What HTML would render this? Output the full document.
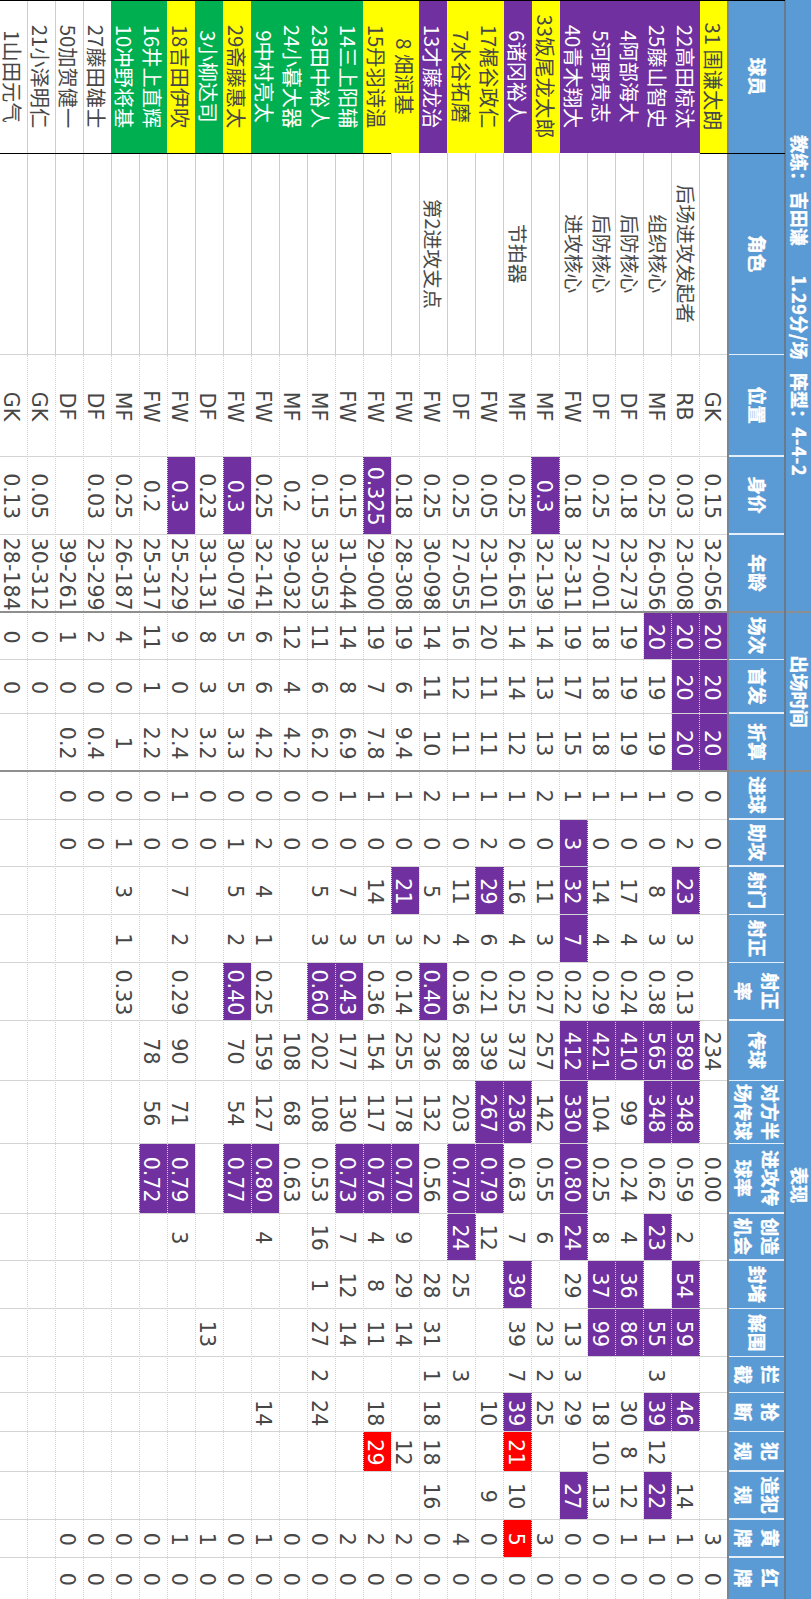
<!DOCTYPE html>
<html lang="zh"><head><meta charset="utf-8"><title>球员数据</title>
<style>
html,body{margin:0;padding:0;background:#fff;}
body{width:811px;height:1599px;overflow:hidden;position:relative;}
#t{position:absolute;left:0;top:0;width:1599px;height:811px;transform-origin:0 0;transform:translate(811px,0) rotate(90deg);background:#fff;
 font-family:"DejaVu Sans","Noto Sans CJK SC",sans-serif;font-size:20.6px;color:#474747;}
#t div{position:absolute;box-sizing:border-box;white-space:nowrap;}
.c{text-align:center;line-height:28px;height:28.1px;}
.d{line-height:33px;padding-left:2.4px;}
.n{font-family:"Noto Sans CJK SC","Liberation Sans",sans-serif;font-size:20.3px;}
.ro{font-size:19.8px;color:#4a4a4a;}
.p{background:#7030a0;color:#fff;}
.y{background:#ffff00;}
.g{background:#00b050;color:#fff;}
.r{background:#ff0000;color:#fff;}
.h{background:#5b9bd5;color:#fff;font-weight:bold;font-family:"Noto Sans CJK SC","Liberation Sans",sans-serif;font-size:18px;text-align:center;-webkit-text-stroke:0.35px #fff;}
.h1{background:none;}
.h2{font-size:18.7px;}
.v{width:1px;background:#d4d4d4;}
.hd{height:0;border-top:1px dotted #d2d2d2;}
.hs{height:1px;background:#cbced8;}

</style></head><body><div id="t">

<div class="h" style="left:0;top:0;width:1599px;height:83.3px"></div>
<div class="h h1" style="left:135.3px;top:0;height:25.5px;line-height:23.9px">教练：</div>
<div class="h h1" style="left:191.8px;top:0;height:25.5px;line-height:23.9px">吉田谦</div>
<div class="h h1" style="left:275.3px;top:0;height:25.5px;line-height:23.9px;letter-spacing:0.6px">1.29分/场</div>
<div class="h h1" style="left:373.05px;top:0;height:25.5px;line-height:23.9px">阵型：</div>
<div class="h h1" style="right:1122.5px;top:0;height:25.5px;line-height:23.9px;letter-spacing:0.8px">4-4-2</div>
<div class="h h1" style="left:612px;top:0;width:159px;height:25.5px;line-height:23.9px;">出场时间</div>
<div class="h h1" style="left:771px;top:0;width:828px;height:25.5px;line-height:23.9px">表现</div>
<div class="h h2" style="left:0px;top:25.5px;width:153px;height:57.8px;line-height:26.75px;padding-top:14.02px">球员</div>
<div class="h h2" style="left:153px;top:25.5px;width:201.5px;height:57.8px;line-height:26.75px;padding-top:14.02px">角色</div>
<div class="h h2" style="left:354.5px;top:25.5px;width:101.5px;height:57.8px;line-height:26.75px;padding-top:14.02px">位置</div>
<div class="h h2" style="left:456px;top:25.5px;width:78px;height:57.8px;line-height:26.75px;padding-top:14.02px">身价</div>
<div class="h h2" style="left:534px;top:25.5px;width:78px;height:57.8px;line-height:26.75px;padding-top:14.02px">年龄</div>
<div class="h h2" style="left:612px;top:25.5px;width:47.6px;height:57.8px;line-height:26.75px;padding-top:14.02px">场次</div>
<div class="h h2" style="left:659.6px;top:25.5px;width:53.4px;height:57.8px;line-height:26.75px;padding-top:14.02px">首发</div>
<div class="h h2" style="left:713px;top:25.5px;width:58px;height:57.8px;line-height:26.75px;padding-top:14.02px">折算</div>
<div class="h h2" style="left:771px;top:25.5px;width:48px;height:57.8px;line-height:26.75px;padding-top:14.02px">进球</div>
<div class="h h2" style="left:819px;top:25.5px;width:47px;height:57.8px;line-height:26.75px;padding-top:14.02px">助攻</div>
<div class="h h2" style="left:866px;top:25.5px;width:48.5px;height:57.8px;line-height:26.75px;padding-top:14.02px">射门</div>
<div class="h h2" style="left:914.5px;top:25.5px;width:48px;height:57.8px;line-height:26.75px;padding-top:14.02px">射正</div>
<div class="h h2" style="left:962.5px;top:25.5px;width:57.5px;height:57.8px;line-height:26.75px;padding-top:1.25px">射正<br>率</div>
<div class="h h2" style="left:1020px;top:25.5px;width:60.5px;height:57.8px;line-height:26.75px;padding-top:14.02px">传球</div>
<div class="h h2" style="left:1080.5px;top:25.5px;width:63.25px;height:57.8px;line-height:26.75px;padding-top:1.25px">对方半<br>场传球</div>
<div class="h h2" style="left:1143.75px;top:25.5px;width:69.25px;height:57.8px;line-height:26.75px;padding-top:1.25px">进攻传<br>球率</div>
<div class="h h2" style="left:1213px;top:25.5px;width:47px;height:57.8px;line-height:26.75px;padding-top:1.25px">创造<br>机会</div>
<div class="h h2" style="left:1260px;top:25.5px;width:48.75px;height:57.8px;line-height:26.75px;padding-top:14.02px">封堵</div>
<div class="h h2" style="left:1308.75px;top:25.5px;width:48px;height:57.8px;line-height:26.75px;padding-top:14.02px">解围</div>
<div class="h h2" style="left:1356.75px;top:25.5px;width:35.75px;height:57.8px;line-height:26.75px;padding-top:1.25px">拦<br>截</div>
<div class="h h2" style="left:1392.5px;top:25.5px;width:39px;height:57.8px;line-height:26.75px;padding-top:1.25px">抢<br>断</div>
<div class="h h2" style="left:1431.5px;top:25.5px;width:39.5px;height:57.8px;line-height:26.75px;padding-top:1.25px">犯<br>规</div>
<div class="h h2" style="left:1471px;top:25.5px;width:48px;height:57.8px;line-height:26.75px;padding-top:1.25px">造犯<br>规</div>
<div class="h h2" style="left:1519px;top:25.5px;width:38px;height:57.8px;line-height:26.75px;padding-top:1.25px">黄<br>牌</div>
<div class="h h2" style="left:1557px;top:25.5px;width:42px;height:57.8px;line-height:26.75px;padding-top:1.25px">红<br>牌</div>
<div class="c d" style="left:354.5px;top:83.3px;width:101.5px">GK</div>
<div class="c d" style="left:456px;top:83.3px;width:78px">0.15</div>
<div class="c d" style="left:534px;top:83.3px;width:78px">32-056</div>
<div class="c d p" style="left:612px;top:83.3px;width:47.6px">20</div>
<div class="c d p" style="left:659.6px;top:83.3px;width:53.4px">20</div>
<div class="c d p" style="left:713px;top:83.3px;width:58px">20</div>
<div class="c d" style="left:771px;top:83.3px;width:48px">0</div>
<div class="c d" style="left:819px;top:83.3px;width:47px">0</div>
<div class="c d" style="left:1020px;top:83.3px;width:60.5px">234</div>
<div class="c d" style="left:1143.75px;top:83.3px;width:69.25px">0.00</div>
<div class="c d" style="left:1519px;top:83.3px;width:38px">3</div>
<div class="c d" style="left:1557px;top:83.3px;width:42px">0</div>
<div class="c n ro" style="left:153px;top:111.32px;width:201.5px">后场进攻发起者</div>
<div class="c d" style="left:354.5px;top:111.32px;width:101.5px">RB</div>
<div class="c d" style="left:456px;top:111.32px;width:78px">0.03</div>
<div class="c d" style="left:534px;top:111.32px;width:78px">23-008</div>
<div class="c d p" style="left:612px;top:111.32px;width:47.6px">20</div>
<div class="c d p" style="left:659.6px;top:111.32px;width:53.4px">20</div>
<div class="c d p" style="left:713px;top:111.32px;width:58px">20</div>
<div class="c d" style="left:771px;top:111.32px;width:48px">0</div>
<div class="c d" style="left:819px;top:111.32px;width:47px">2</div>
<div class="c d p" style="left:866px;top:111.32px;width:48.5px">23</div>
<div class="c d" style="left:914.5px;top:111.32px;width:48px">3</div>
<div class="c d" style="left:962.5px;top:111.32px;width:57.5px">0.13</div>
<div class="c d p" style="left:1020px;top:111.32px;width:60.5px">589</div>
<div class="c d p" style="left:1080.5px;top:111.32px;width:63.25px">348</div>
<div class="c d" style="left:1143.75px;top:111.32px;width:69.25px">0.59</div>
<div class="c d" style="left:1213px;top:111.32px;width:47px">2</div>
<div class="c d p" style="left:1260px;top:111.32px;width:48.75px">54</div>
<div class="c d p" style="left:1308.75px;top:111.32px;width:48px">59</div>
<div class="c d p" style="left:1392.5px;top:111.32px;width:39px">46</div>
<div class="c d" style="left:1471px;top:111.32px;width:48px">14</div>
<div class="c d" style="left:1519px;top:111.32px;width:38px">1</div>
<div class="c d" style="left:1557px;top:111.32px;width:42px">0</div>
<div class="c n ro" style="left:153px;top:139.34px;width:201.5px">组织核心</div>
<div class="c d" style="left:354.5px;top:139.34px;width:101.5px">MF</div>
<div class="c d" style="left:456px;top:139.34px;width:78px">0.25</div>
<div class="c d" style="left:534px;top:139.34px;width:78px">26-056</div>
<div class="c d p" style="left:612px;top:139.34px;width:47.6px">20</div>
<div class="c d" style="left:659.6px;top:139.34px;width:53.4px">19</div>
<div class="c d" style="left:713px;top:139.34px;width:58px">19</div>
<div class="c d" style="left:771px;top:139.34px;width:48px">1</div>
<div class="c d" style="left:819px;top:139.34px;width:47px">0</div>
<div class="c d" style="left:866px;top:139.34px;width:48.5px">8</div>
<div class="c d" style="left:914.5px;top:139.34px;width:48px">3</div>
<div class="c d" style="left:962.5px;top:139.34px;width:57.5px">0.38</div>
<div class="c d p" style="left:1020px;top:139.34px;width:60.5px">565</div>
<div class="c d p" style="left:1080.5px;top:139.34px;width:63.25px">348</div>
<div class="c d" style="left:1143.75px;top:139.34px;width:69.25px">0.62</div>
<div class="c d p" style="left:1213px;top:139.34px;width:47px">23</div>
<div class="c d p" style="left:1308.75px;top:139.34px;width:48px">55</div>
<div class="c d" style="left:1356.75px;top:139.34px;width:35.75px">3</div>
<div class="c d p" style="left:1392.5px;top:139.34px;width:39px">39</div>
<div class="c d" style="left:1431.5px;top:139.34px;width:39.5px">12</div>
<div class="c d p" style="left:1471px;top:139.34px;width:48px">22</div>
<div class="c d" style="left:1519px;top:139.34px;width:38px">1</div>
<div class="c d" style="left:1557px;top:139.34px;width:42px">0</div>
<div class="c n ro" style="left:153px;top:167.36px;width:201.5px">后防核心</div>
<div class="c d" style="left:354.5px;top:167.36px;width:101.5px">DF</div>
<div class="c d" style="left:456px;top:167.36px;width:78px">0.18</div>
<div class="c d" style="left:534px;top:167.36px;width:78px">23-273</div>
<div class="c d" style="left:612px;top:167.36px;width:47.6px">19</div>
<div class="c d" style="left:659.6px;top:167.36px;width:53.4px">19</div>
<div class="c d" style="left:713px;top:167.36px;width:58px">19</div>
<div class="c d" style="left:771px;top:167.36px;width:48px">1</div>
<div class="c d" style="left:819px;top:167.36px;width:47px">0</div>
<div class="c d" style="left:866px;top:167.36px;width:48.5px">17</div>
<div class="c d" style="left:914.5px;top:167.36px;width:48px">4</div>
<div class="c d" style="left:962.5px;top:167.36px;width:57.5px">0.24</div>
<div class="c d p" style="left:1020px;top:167.36px;width:60.5px">410</div>
<div class="c d" style="left:1080.5px;top:167.36px;width:63.25px">99</div>
<div class="c d" style="left:1143.75px;top:167.36px;width:69.25px">0.24</div>
<div class="c d" style="left:1213px;top:167.36px;width:47px">4</div>
<div class="c d p" style="left:1260px;top:167.36px;width:48.75px">36</div>
<div class="c d p" style="left:1308.75px;top:167.36px;width:48px">86</div>
<div class="c d" style="left:1392.5px;top:167.36px;width:39px">30</div>
<div class="c d" style="left:1431.5px;top:167.36px;width:39.5px">8</div>
<div class="c d" style="left:1471px;top:167.36px;width:48px">12</div>
<div class="c d" style="left:1519px;top:167.36px;width:38px">1</div>
<div class="c d" style="left:1557px;top:167.36px;width:42px">0</div>
<div class="c n ro" style="left:153px;top:195.38px;width:201.5px">后防核心</div>
<div class="c d" style="left:354.5px;top:195.38px;width:101.5px">DF</div>
<div class="c d" style="left:456px;top:195.38px;width:78px">0.25</div>
<div class="c d" style="left:534px;top:195.38px;width:78px">27-001</div>
<div class="c d" style="left:612px;top:195.38px;width:47.6px">18</div>
<div class="c d" style="left:659.6px;top:195.38px;width:53.4px">18</div>
<div class="c d" style="left:713px;top:195.38px;width:58px">18</div>
<div class="c d" style="left:771px;top:195.38px;width:48px">1</div>
<div class="c d" style="left:819px;top:195.38px;width:47px">0</div>
<div class="c d" style="left:866px;top:195.38px;width:48.5px">14</div>
<div class="c d" style="left:914.5px;top:195.38px;width:48px">4</div>
<div class="c d" style="left:962.5px;top:195.38px;width:57.5px">0.29</div>
<div class="c d p" style="left:1020px;top:195.38px;width:60.5px">421</div>
<div class="c d" style="left:1080.5px;top:195.38px;width:63.25px">104</div>
<div class="c d" style="left:1143.75px;top:195.38px;width:69.25px">0.25</div>
<div class="c d" style="left:1213px;top:195.38px;width:47px">8</div>
<div class="c d p" style="left:1260px;top:195.38px;width:48.75px">37</div>
<div class="c d p" style="left:1308.75px;top:195.38px;width:48px">99</div>
<div class="c d" style="left:1392.5px;top:195.38px;width:39px">18</div>
<div class="c d" style="left:1431.5px;top:195.38px;width:39.5px">10</div>
<div class="c d" style="left:1471px;top:195.38px;width:48px">13</div>
<div class="c d" style="left:1519px;top:195.38px;width:38px">0</div>
<div class="c d" style="left:1557px;top:195.38px;width:42px">0</div>
<div class="c n ro" style="left:153px;top:223.4px;width:201.5px">进攻核心</div>
<div class="c d" style="left:354.5px;top:223.4px;width:101.5px">FW</div>
<div class="c d" style="left:456px;top:223.4px;width:78px">0.18</div>
<div class="c d" style="left:534px;top:223.4px;width:78px">32-311</div>
<div class="c d" style="left:612px;top:223.4px;width:47.6px">19</div>
<div class="c d" style="left:659.6px;top:223.4px;width:53.4px">17</div>
<div class="c d" style="left:713px;top:223.4px;width:58px">15</div>
<div class="c d" style="left:771px;top:223.4px;width:48px">1</div>
<div class="c d p" style="left:819px;top:223.4px;width:47px">3</div>
<div class="c d p" style="left:866px;top:223.4px;width:48.5px">32</div>
<div class="c d p" style="left:914.5px;top:223.4px;width:48px">7</div>
<div class="c d" style="left:962.5px;top:223.4px;width:57.5px">0.22</div>
<div class="c d p" style="left:1020px;top:223.4px;width:60.5px">412</div>
<div class="c d p" style="left:1080.5px;top:223.4px;width:63.25px">330</div>
<div class="c d p" style="left:1143.75px;top:223.4px;width:69.25px">0.80</div>
<div class="c d p" style="left:1213px;top:223.4px;width:47px">24</div>
<div class="c d" style="left:1260px;top:223.4px;width:48.75px">29</div>
<div class="c d" style="left:1308.75px;top:223.4px;width:48px">13</div>
<div class="c d" style="left:1356.75px;top:223.4px;width:35.75px">3</div>
<div class="c d" style="left:1392.5px;top:223.4px;width:39px">29</div>
<div class="c d p" style="left:1471px;top:223.4px;width:48px">27</div>
<div class="c d" style="left:1519px;top:223.4px;width:38px">0</div>
<div class="c d" style="left:1557px;top:223.4px;width:42px">0</div>
<div class="c d" style="left:354.5px;top:251.42px;width:101.5px">MF</div>
<div class="c d p" style="left:456px;top:251.42px;width:78px">0.3</div>
<div class="c d" style="left:534px;top:251.42px;width:78px">32-139</div>
<div class="c d" style="left:612px;top:251.42px;width:47.6px">14</div>
<div class="c d" style="left:659.6px;top:251.42px;width:53.4px">13</div>
<div class="c d" style="left:713px;top:251.42px;width:58px">13</div>
<div class="c d" style="left:771px;top:251.42px;width:48px">2</div>
<div class="c d" style="left:819px;top:251.42px;width:47px">0</div>
<div class="c d" style="left:866px;top:251.42px;width:48.5px">11</div>
<div class="c d" style="left:914.5px;top:251.42px;width:48px">3</div>
<div class="c d" style="left:962.5px;top:251.42px;width:57.5px">0.27</div>
<div class="c d" style="left:1020px;top:251.42px;width:60.5px">257</div>
<div class="c d" style="left:1080.5px;top:251.42px;width:63.25px">142</div>
<div class="c d" style="left:1143.75px;top:251.42px;width:69.25px">0.55</div>
<div class="c d" style="left:1213px;top:251.42px;width:47px">6</div>
<div class="c d" style="left:1308.75px;top:251.42px;width:48px">23</div>
<div class="c d" style="left:1356.75px;top:251.42px;width:35.75px">2</div>
<div class="c d" style="left:1392.5px;top:251.42px;width:39px">25</div>
<div class="c d" style="left:1519px;top:251.42px;width:38px">3</div>
<div class="c d" style="left:1557px;top:251.42px;width:42px">0</div>
<div class="c n ro" style="left:153px;top:279.44px;width:201.5px">节拍器</div>
<div class="c d" style="left:354.5px;top:279.44px;width:101.5px">MF</div>
<div class="c d" style="left:456px;top:279.44px;width:78px">0.25</div>
<div class="c d" style="left:534px;top:279.44px;width:78px">26-165</div>
<div class="c d" style="left:612px;top:279.44px;width:47.6px">14</div>
<div class="c d" style="left:659.6px;top:279.44px;width:53.4px">14</div>
<div class="c d" style="left:713px;top:279.44px;width:58px">12</div>
<div class="c d" style="left:771px;top:279.44px;width:48px">1</div>
<div class="c d" style="left:819px;top:279.44px;width:47px">0</div>
<div class="c d" style="left:866px;top:279.44px;width:48.5px">16</div>
<div class="c d" style="left:914.5px;top:279.44px;width:48px">4</div>
<div class="c d" style="left:962.5px;top:279.44px;width:57.5px">0.25</div>
<div class="c d" style="left:1020px;top:279.44px;width:60.5px">373</div>
<div class="c d p" style="left:1080.5px;top:279.44px;width:63.25px">236</div>
<div class="c d" style="left:1143.75px;top:279.44px;width:69.25px">0.63</div>
<div class="c d" style="left:1213px;top:279.44px;width:47px">7</div>
<div class="c d p" style="left:1260px;top:279.44px;width:48.75px">39</div>
<div class="c d" style="left:1308.75px;top:279.44px;width:48px">39</div>
<div class="c d" style="left:1356.75px;top:279.44px;width:35.75px">7</div>
<div class="c d p" style="left:1392.5px;top:279.44px;width:39px">39</div>
<div class="c d r" style="left:1431.5px;top:279.44px;width:39.5px">21</div>
<div class="c d" style="left:1471px;top:279.44px;width:48px">10</div>
<div class="c d r" style="left:1519px;top:279.44px;width:38px">5</div>
<div class="c d" style="left:1557px;top:279.44px;width:42px">0</div>
<div class="c d" style="left:354.5px;top:307.46px;width:101.5px">FW</div>
<div class="c d" style="left:456px;top:307.46px;width:78px">0.05</div>
<div class="c d" style="left:534px;top:307.46px;width:78px">23-101</div>
<div class="c d" style="left:612px;top:307.46px;width:47.6px">20</div>
<div class="c d" style="left:659.6px;top:307.46px;width:53.4px">11</div>
<div class="c d" style="left:713px;top:307.46px;width:58px">11</div>
<div class="c d" style="left:771px;top:307.46px;width:48px">1</div>
<div class="c d" style="left:819px;top:307.46px;width:47px">2</div>
<div class="c d p" style="left:866px;top:307.46px;width:48.5px">29</div>
<div class="c d" style="left:914.5px;top:307.46px;width:48px">6</div>
<div class="c d" style="left:962.5px;top:307.46px;width:57.5px">0.21</div>
<div class="c d" style="left:1020px;top:307.46px;width:60.5px">339</div>
<div class="c d p" style="left:1080.5px;top:307.46px;width:63.25px">267</div>
<div class="c d p" style="left:1143.75px;top:307.46px;width:69.25px">0.79</div>
<div class="c d" style="left:1213px;top:307.46px;width:47px">12</div>
<div class="c d" style="left:1392.5px;top:307.46px;width:39px">10</div>
<div class="c d" style="left:1471px;top:307.46px;width:48px">9</div>
<div class="c d" style="left:1519px;top:307.46px;width:38px">0</div>
<div class="c d" style="left:1557px;top:307.46px;width:42px">0</div>
<div class="c d" style="left:354.5px;top:335.48px;width:101.5px">DF</div>
<div class="c d" style="left:456px;top:335.48px;width:78px">0.25</div>
<div class="c d" style="left:534px;top:335.48px;width:78px">27-055</div>
<div class="c d" style="left:612px;top:335.48px;width:47.6px">16</div>
<div class="c d" style="left:659.6px;top:335.48px;width:53.4px">12</div>
<div class="c d" style="left:713px;top:335.48px;width:58px">11</div>
<div class="c d" style="left:771px;top:335.48px;width:48px">1</div>
<div class="c d" style="left:819px;top:335.48px;width:47px">0</div>
<div class="c d" style="left:866px;top:335.48px;width:48.5px">11</div>
<div class="c d" style="left:914.5px;top:335.48px;width:48px">4</div>
<div class="c d" style="left:962.5px;top:335.48px;width:57.5px">0.36</div>
<div class="c d" style="left:1020px;top:335.48px;width:60.5px">288</div>
<div class="c d" style="left:1080.5px;top:335.48px;width:63.25px">203</div>
<div class="c d p" style="left:1143.75px;top:335.48px;width:69.25px">0.70</div>
<div class="c d p" style="left:1213px;top:335.48px;width:47px">24</div>
<div class="c d" style="left:1260px;top:335.48px;width:48.75px">25</div>
<div class="c d" style="left:1356.75px;top:335.48px;width:35.75px">3</div>
<div class="c d" style="left:1519px;top:335.48px;width:38px">4</div>
<div class="c d" style="left:1557px;top:335.48px;width:42px">0</div>
<div class="c n ro" style="left:153px;top:363.5px;width:201.5px">第2进攻支点</div>
<div class="c d" style="left:354.5px;top:363.5px;width:101.5px">FW</div>
<div class="c d" style="left:456px;top:363.5px;width:78px">0.25</div>
<div class="c d" style="left:534px;top:363.5px;width:78px">30-098</div>
<div class="c d" style="left:612px;top:363.5px;width:47.6px">14</div>
<div class="c d" style="left:659.6px;top:363.5px;width:53.4px">11</div>
<div class="c d" style="left:713px;top:363.5px;width:58px">10</div>
<div class="c d" style="left:771px;top:363.5px;width:48px">2</div>
<div class="c d" style="left:819px;top:363.5px;width:47px">0</div>
<div class="c d" style="left:866px;top:363.5px;width:48.5px">5</div>
<div class="c d" style="left:914.5px;top:363.5px;width:48px">2</div>
<div class="c d p" style="left:962.5px;top:363.5px;width:57.5px">0.40</div>
<div class="c d" style="left:1020px;top:363.5px;width:60.5px">236</div>
<div class="c d" style="left:1080.5px;top:363.5px;width:63.25px">132</div>
<div class="c d" style="left:1143.75px;top:363.5px;width:69.25px">0.56</div>
<div class="c d" style="left:1260px;top:363.5px;width:48.75px">28</div>
<div class="c d" style="left:1308.75px;top:363.5px;width:48px">31</div>
<div class="c d" style="left:1356.75px;top:363.5px;width:35.75px">1</div>
<div class="c d" style="left:1392.5px;top:363.5px;width:39px">18</div>
<div class="c d" style="left:1431.5px;top:363.5px;width:39.5px">18</div>
<div class="c d" style="left:1471px;top:363.5px;width:48px">16</div>
<div class="c d" style="left:1519px;top:363.5px;width:38px">0</div>
<div class="c d" style="left:1557px;top:363.5px;width:42px">0</div>
<div class="c d" style="left:354.5px;top:391.52px;width:101.5px">FW</div>
<div class="c d" style="left:456px;top:391.52px;width:78px">0.18</div>
<div class="c d" style="left:534px;top:391.52px;width:78px">28-308</div>
<div class="c d" style="left:612px;top:391.52px;width:47.6px">19</div>
<div class="c d" style="left:659.6px;top:391.52px;width:53.4px">6</div>
<div class="c d" style="left:713px;top:391.52px;width:58px">9.4</div>
<div class="c d" style="left:771px;top:391.52px;width:48px">1</div>
<div class="c d" style="left:819px;top:391.52px;width:47px">0</div>
<div class="c d p" style="left:866px;top:391.52px;width:48.5px">21</div>
<div class="c d" style="left:914.5px;top:391.52px;width:48px">3</div>
<div class="c d" style="left:962.5px;top:391.52px;width:57.5px">0.14</div>
<div class="c d" style="left:1020px;top:391.52px;width:60.5px">255</div>
<div class="c d" style="left:1080.5px;top:391.52px;width:63.25px">178</div>
<div class="c d p" style="left:1143.75px;top:391.52px;width:69.25px">0.70</div>
<div class="c d" style="left:1213px;top:391.52px;width:47px">9</div>
<div class="c d" style="left:1260px;top:391.52px;width:48.75px">29</div>
<div class="c d" style="left:1308.75px;top:391.52px;width:48px">14</div>
<div class="c d" style="left:1431.5px;top:391.52px;width:39.5px">12</div>
<div class="c d" style="left:1519px;top:391.52px;width:38px">2</div>
<div class="c d" style="left:1557px;top:391.52px;width:42px">0</div>
<div class="c d" style="left:354.5px;top:419.54px;width:101.5px">FW</div>
<div class="c d p" style="left:456px;top:419.54px;width:78px">0.325</div>
<div class="c d" style="left:534px;top:419.54px;width:78px">29-000</div>
<div class="c d" style="left:612px;top:419.54px;width:47.6px">19</div>
<div class="c d" style="left:659.6px;top:419.54px;width:53.4px">7</div>
<div class="c d" style="left:713px;top:419.54px;width:58px">7.8</div>
<div class="c d" style="left:771px;top:419.54px;width:48px">1</div>
<div class="c d" style="left:819px;top:419.54px;width:47px">0</div>
<div class="c d" style="left:866px;top:419.54px;width:48.5px">14</div>
<div class="c d" style="left:914.5px;top:419.54px;width:48px">5</div>
<div class="c d" style="left:962.5px;top:419.54px;width:57.5px">0.36</div>
<div class="c d" style="left:1020px;top:419.54px;width:60.5px">154</div>
<div class="c d" style="left:1080.5px;top:419.54px;width:63.25px">117</div>
<div class="c d p" style="left:1143.75px;top:419.54px;width:69.25px">0.76</div>
<div class="c d" style="left:1213px;top:419.54px;width:47px">4</div>
<div class="c d" style="left:1260px;top:419.54px;width:48.75px">8</div>
<div class="c d" style="left:1308.75px;top:419.54px;width:48px">11</div>
<div class="c d" style="left:1392.5px;top:419.54px;width:39px">18</div>
<div class="c d r" style="left:1431.5px;top:419.54px;width:39.5px">29</div>
<div class="c d" style="left:1519px;top:419.54px;width:38px">2</div>
<div class="c d" style="left:1557px;top:419.54px;width:42px">0</div>
<div class="c d" style="left:354.5px;top:447.56px;width:101.5px">FW</div>
<div class="c d" style="left:456px;top:447.56px;width:78px">0.15</div>
<div class="c d" style="left:534px;top:447.56px;width:78px">31-044</div>
<div class="c d" style="left:612px;top:447.56px;width:47.6px">14</div>
<div class="c d" style="left:659.6px;top:447.56px;width:53.4px">8</div>
<div class="c d" style="left:713px;top:447.56px;width:58px">6.9</div>
<div class="c d" style="left:771px;top:447.56px;width:48px">1</div>
<div class="c d" style="left:819px;top:447.56px;width:47px">0</div>
<div class="c d" style="left:866px;top:447.56px;width:48.5px">7</div>
<div class="c d" style="left:914.5px;top:447.56px;width:48px">3</div>
<div class="c d p" style="left:962.5px;top:447.56px;width:57.5px">0.43</div>
<div class="c d" style="left:1020px;top:447.56px;width:60.5px">177</div>
<div class="c d" style="left:1080.5px;top:447.56px;width:63.25px">130</div>
<div class="c d p" style="left:1143.75px;top:447.56px;width:69.25px">0.73</div>
<div class="c d" style="left:1213px;top:447.56px;width:47px">7</div>
<div class="c d" style="left:1260px;top:447.56px;width:48.75px">12</div>
<div class="c d" style="left:1308.75px;top:447.56px;width:48px">14</div>
<div class="c d" style="left:1519px;top:447.56px;width:38px">2</div>
<div class="c d" style="left:1557px;top:447.56px;width:42px">0</div>
<div class="c d" style="left:354.5px;top:475.58px;width:101.5px">MF</div>
<div class="c d" style="left:456px;top:475.58px;width:78px">0.15</div>
<div class="c d" style="left:534px;top:475.58px;width:78px">33-053</div>
<div class="c d" style="left:612px;top:475.58px;width:47.6px">11</div>
<div class="c d" style="left:659.6px;top:475.58px;width:53.4px">6</div>
<div class="c d" style="left:713px;top:475.58px;width:58px">6.2</div>
<div class="c d" style="left:771px;top:475.58px;width:48px">0</div>
<div class="c d" style="left:819px;top:475.58px;width:47px">0</div>
<div class="c d" style="left:866px;top:475.58px;width:48.5px">5</div>
<div class="c d" style="left:914.5px;top:475.58px;width:48px">3</div>
<div class="c d p" style="left:962.5px;top:475.58px;width:57.5px">0.60</div>
<div class="c d" style="left:1020px;top:475.58px;width:60.5px">202</div>
<div class="c d" style="left:1080.5px;top:475.58px;width:63.25px">108</div>
<div class="c d" style="left:1143.75px;top:475.58px;width:69.25px">0.53</div>
<div class="c d" style="left:1213px;top:475.58px;width:47px">16</div>
<div class="c d" style="left:1260px;top:475.58px;width:48.75px">1</div>
<div class="c d" style="left:1308.75px;top:475.58px;width:48px">27</div>
<div class="c d" style="left:1356.75px;top:475.58px;width:35.75px">2</div>
<div class="c d" style="left:1392.5px;top:475.58px;width:39px">24</div>
<div class="c d" style="left:1519px;top:475.58px;width:38px">0</div>
<div class="c d" style="left:1557px;top:475.58px;width:42px">0</div>
<div class="c d" style="left:354.5px;top:503.6px;width:101.5px">MF</div>
<div class="c d" style="left:456px;top:503.6px;width:78px">0.2</div>
<div class="c d" style="left:534px;top:503.6px;width:78px">29-032</div>
<div class="c d" style="left:612px;top:503.6px;width:47.6px">12</div>
<div class="c d" style="left:659.6px;top:503.6px;width:53.4px">4</div>
<div class="c d" style="left:713px;top:503.6px;width:58px">4.2</div>
<div class="c d" style="left:771px;top:503.6px;width:48px">0</div>
<div class="c d" style="left:819px;top:503.6px;width:47px">0</div>
<div class="c d" style="left:1020px;top:503.6px;width:60.5px">108</div>
<div class="c d" style="left:1080.5px;top:503.6px;width:63.25px">68</div>
<div class="c d" style="left:1143.75px;top:503.6px;width:69.25px">0.63</div>
<div class="c d" style="left:1519px;top:503.6px;width:38px">0</div>
<div class="c d" style="left:1557px;top:503.6px;width:42px">0</div>
<div class="c d" style="left:354.5px;top:531.62px;width:101.5px">FW</div>
<div class="c d" style="left:456px;top:531.62px;width:78px">0.25</div>
<div class="c d" style="left:534px;top:531.62px;width:78px">32-141</div>
<div class="c d" style="left:612px;top:531.62px;width:47.6px">6</div>
<div class="c d" style="left:659.6px;top:531.62px;width:53.4px">6</div>
<div class="c d" style="left:713px;top:531.62px;width:58px">4.2</div>
<div class="c d" style="left:771px;top:531.62px;width:48px">0</div>
<div class="c d" style="left:819px;top:531.62px;width:47px">2</div>
<div class="c d" style="left:866px;top:531.62px;width:48.5px">4</div>
<div class="c d" style="left:914.5px;top:531.62px;width:48px">1</div>
<div class="c d" style="left:962.5px;top:531.62px;width:57.5px">0.25</div>
<div class="c d" style="left:1020px;top:531.62px;width:60.5px">159</div>
<div class="c d" style="left:1080.5px;top:531.62px;width:63.25px">127</div>
<div class="c d p" style="left:1143.75px;top:531.62px;width:69.25px">0.80</div>
<div class="c d" style="left:1213px;top:531.62px;width:47px">4</div>
<div class="c d" style="left:1392.5px;top:531.62px;width:39px">14</div>
<div class="c d" style="left:1519px;top:531.62px;width:38px">1</div>
<div class="c d" style="left:1557px;top:531.62px;width:42px">0</div>
<div class="c d" style="left:354.5px;top:559.64px;width:101.5px">FW</div>
<div class="c d p" style="left:456px;top:559.64px;width:78px">0.3</div>
<div class="c d" style="left:534px;top:559.64px;width:78px">30-079</div>
<div class="c d" style="left:612px;top:559.64px;width:47.6px">5</div>
<div class="c d" style="left:659.6px;top:559.64px;width:53.4px">5</div>
<div class="c d" style="left:713px;top:559.64px;width:58px">3.3</div>
<div class="c d" style="left:771px;top:559.64px;width:48px">0</div>
<div class="c d" style="left:819px;top:559.64px;width:47px">1</div>
<div class="c d" style="left:866px;top:559.64px;width:48.5px">5</div>
<div class="c d" style="left:914.5px;top:559.64px;width:48px">2</div>
<div class="c d p" style="left:962.5px;top:559.64px;width:57.5px">0.40</div>
<div class="c d" style="left:1020px;top:559.64px;width:60.5px">70</div>
<div class="c d" style="left:1080.5px;top:559.64px;width:63.25px">54</div>
<div class="c d p" style="left:1143.75px;top:559.64px;width:69.25px">0.77</div>
<div class="c d" style="left:1519px;top:559.64px;width:38px">0</div>
<div class="c d" style="left:1557px;top:559.64px;width:42px">0</div>
<div class="c d" style="left:354.5px;top:587.66px;width:101.5px">DF</div>
<div class="c d" style="left:456px;top:587.66px;width:78px">0.23</div>
<div class="c d" style="left:534px;top:587.66px;width:78px">33-131</div>
<div class="c d" style="left:612px;top:587.66px;width:47.6px">8</div>
<div class="c d" style="left:659.6px;top:587.66px;width:53.4px">3</div>
<div class="c d" style="left:713px;top:587.66px;width:58px">3.2</div>
<div class="c d" style="left:771px;top:587.66px;width:48px">0</div>
<div class="c d" style="left:819px;top:587.66px;width:47px">0</div>
<div class="c d" style="left:1308.75px;top:587.66px;width:48px">13</div>
<div class="c d" style="left:1519px;top:587.66px;width:38px">1</div>
<div class="c d" style="left:1557px;top:587.66px;width:42px">0</div>
<div class="c d" style="left:354.5px;top:615.68px;width:101.5px">FW</div>
<div class="c d p" style="left:456px;top:615.68px;width:78px">0.3</div>
<div class="c d" style="left:534px;top:615.68px;width:78px">25-229</div>
<div class="c d" style="left:612px;top:615.68px;width:47.6px">9</div>
<div class="c d" style="left:659.6px;top:615.68px;width:53.4px">0</div>
<div class="c d" style="left:713px;top:615.68px;width:58px">2.4</div>
<div class="c d" style="left:771px;top:615.68px;width:48px">1</div>
<div class="c d" style="left:819px;top:615.68px;width:47px">0</div>
<div class="c d" style="left:866px;top:615.68px;width:48.5px">7</div>
<div class="c d" style="left:914.5px;top:615.68px;width:48px">2</div>
<div class="c d" style="left:962.5px;top:615.68px;width:57.5px">0.29</div>
<div class="c d" style="left:1020px;top:615.68px;width:60.5px">90</div>
<div class="c d" style="left:1080.5px;top:615.68px;width:63.25px">71</div>
<div class="c d p" style="left:1143.75px;top:615.68px;width:69.25px">0.79</div>
<div class="c d" style="left:1213px;top:615.68px;width:47px">3</div>
<div class="c d" style="left:1519px;top:615.68px;width:38px">1</div>
<div class="c d" style="left:1557px;top:615.68px;width:42px">0</div>
<div class="c d" style="left:354.5px;top:643.7px;width:101.5px">FW</div>
<div class="c d" style="left:456px;top:643.7px;width:78px">0.2</div>
<div class="c d" style="left:534px;top:643.7px;width:78px">25-317</div>
<div class="c d" style="left:612px;top:643.7px;width:47.6px">11</div>
<div class="c d" style="left:659.6px;top:643.7px;width:53.4px">1</div>
<div class="c d" style="left:713px;top:643.7px;width:58px">2.2</div>
<div class="c d" style="left:771px;top:643.7px;width:48px">0</div>
<div class="c d" style="left:819px;top:643.7px;width:47px">0</div>
<div class="c d" style="left:1020px;top:643.7px;width:60.5px">78</div>
<div class="c d" style="left:1080.5px;top:643.7px;width:63.25px">56</div>
<div class="c d p" style="left:1143.75px;top:643.7px;width:69.25px">0.72</div>
<div class="c d" style="left:1519px;top:643.7px;width:38px">0</div>
<div class="c d" style="left:1557px;top:643.7px;width:42px">0</div>
<div class="c d" style="left:354.5px;top:671.72px;width:101.5px">MF</div>
<div class="c d" style="left:456px;top:671.72px;width:78px">0.25</div>
<div class="c d" style="left:534px;top:671.72px;width:78px">26-187</div>
<div class="c d" style="left:612px;top:671.72px;width:47.6px">4</div>
<div class="c d" style="left:659.6px;top:671.72px;width:53.4px">0</div>
<div class="c d" style="left:713px;top:671.72px;width:58px">1</div>
<div class="c d" style="left:771px;top:671.72px;width:48px">0</div>
<div class="c d" style="left:819px;top:671.72px;width:47px">1</div>
<div class="c d" style="left:866px;top:671.72px;width:48.5px">3</div>
<div class="c d" style="left:914.5px;top:671.72px;width:48px">1</div>
<div class="c d" style="left:962.5px;top:671.72px;width:57.5px">0.33</div>
<div class="c d" style="left:1519px;top:671.72px;width:38px">0</div>
<div class="c d" style="left:1557px;top:671.72px;width:42px">0</div>
<div class="c d" style="left:354.5px;top:699.74px;width:101.5px">DF</div>
<div class="c d" style="left:456px;top:699.74px;width:78px">0.03</div>
<div class="c d" style="left:534px;top:699.74px;width:78px">23-299</div>
<div class="c d" style="left:612px;top:699.74px;width:47.6px">2</div>
<div class="c d" style="left:659.6px;top:699.74px;width:53.4px">0</div>
<div class="c d" style="left:713px;top:699.74px;width:58px">0.4</div>
<div class="c d" style="left:771px;top:699.74px;width:48px">0</div>
<div class="c d" style="left:819px;top:699.74px;width:47px">0</div>
<div class="c d" style="left:1519px;top:699.74px;width:38px">0</div>
<div class="c d" style="left:1557px;top:699.74px;width:42px">0</div>
<div class="c d" style="left:354.5px;top:727.76px;width:101.5px">DF</div>
<div class="c d" style="left:534px;top:727.76px;width:78px">39-261</div>
<div class="c d" style="left:612px;top:727.76px;width:47.6px">1</div>
<div class="c d" style="left:659.6px;top:727.76px;width:53.4px">0</div>
<div class="c d" style="left:713px;top:727.76px;width:58px">0.2</div>
<div class="c d" style="left:771px;top:727.76px;width:48px">0</div>
<div class="c d" style="left:819px;top:727.76px;width:47px">0</div>
<div class="c d" style="left:1519px;top:727.76px;width:38px">0</div>
<div class="c d" style="left:1557px;top:727.76px;width:42px">0</div>
<div class="c d" style="left:354.5px;top:755.78px;width:101.5px">GK</div>
<div class="c d" style="left:456px;top:755.78px;width:78px">0.05</div>
<div class="c d" style="left:534px;top:755.78px;width:78px">30-312</div>
<div class="c d" style="left:612px;top:755.78px;width:47.6px">0</div>
<div class="c d" style="left:659.6px;top:755.78px;width:53.4px">0</div>
<div class="c d" style="left:354.5px;top:783.8px;width:101.5px">GK</div>
<div class="c d" style="left:456px;top:783.8px;width:78px">0.13</div>
<div class="c d" style="left:534px;top:783.8px;width:78px">28-184</div>
<div class="c d" style="left:612px;top:783.8px;width:47.6px">0</div>
<div class="c d" style="left:659.6px;top:783.8px;width:53.4px">0</div>
<div class="hs" style="left:0;top:110.52px;width:354.5px"></div>
<div class="hd" style="left:354.5px;top:110.52px;width:1244.5px"></div>
<div class="hs" style="left:0;top:138.54px;width:354.5px"></div>
<div class="hd" style="left:354.5px;top:138.54px;width:1244.5px"></div>
<div class="hs" style="left:0;top:166.56px;width:354.5px"></div>
<div class="hd" style="left:354.5px;top:166.56px;width:1244.5px"></div>
<div class="hs" style="left:0;top:194.58px;width:354.5px"></div>
<div class="hd" style="left:354.5px;top:194.58px;width:1244.5px"></div>
<div class="hs" style="left:0;top:222.6px;width:354.5px"></div>
<div class="hd" style="left:354.5px;top:222.6px;width:1244.5px"></div>
<div class="hs" style="left:0;top:250.62px;width:354.5px"></div>
<div class="hd" style="left:354.5px;top:250.62px;width:1244.5px"></div>
<div class="hs" style="left:0;top:278.64px;width:354.5px"></div>
<div class="hd" style="left:354.5px;top:278.64px;width:1244.5px"></div>
<div class="hs" style="left:0;top:306.66px;width:354.5px"></div>
<div class="hd" style="left:354.5px;top:306.66px;width:1244.5px"></div>
<div class="hs" style="left:0;top:334.68px;width:354.5px"></div>
<div class="hd" style="left:354.5px;top:334.68px;width:1244.5px"></div>
<div class="hs" style="left:0;top:362.7px;width:354.5px"></div>
<div class="hd" style="left:354.5px;top:362.7px;width:1244.5px"></div>
<div class="hs" style="left:0;top:390.72px;width:354.5px"></div>
<div class="hd" style="left:354.5px;top:390.72px;width:1244.5px"></div>
<div class="hs" style="left:0;top:418.74px;width:354.5px"></div>
<div class="hd" style="left:354.5px;top:418.74px;width:1244.5px"></div>
<div class="hs" style="left:0;top:446.76px;width:354.5px"></div>
<div class="hd" style="left:354.5px;top:446.76px;width:1244.5px"></div>
<div class="hs" style="left:0;top:474.78px;width:354.5px"></div>
<div class="hd" style="left:354.5px;top:474.78px;width:1244.5px"></div>
<div class="hs" style="left:0;top:502.8px;width:354.5px"></div>
<div class="hd" style="left:354.5px;top:502.8px;width:1244.5px"></div>
<div class="hs" style="left:0;top:530.82px;width:354.5px"></div>
<div class="hd" style="left:354.5px;top:530.82px;width:1244.5px"></div>
<div class="hs" style="left:0;top:558.84px;width:354.5px"></div>
<div class="hd" style="left:354.5px;top:558.84px;width:1244.5px"></div>
<div class="hs" style="left:0;top:586.86px;width:354.5px"></div>
<div class="hd" style="left:354.5px;top:586.86px;width:1244.5px"></div>
<div class="hs" style="left:0;top:614.88px;width:354.5px"></div>
<div class="hd" style="left:354.5px;top:614.88px;width:1244.5px"></div>
<div class="hs" style="left:0;top:642.9px;width:354.5px"></div>
<div class="hd" style="left:354.5px;top:642.9px;width:1244.5px"></div>
<div class="hs" style="left:0;top:670.92px;width:354.5px"></div>
<div class="hd" style="left:354.5px;top:670.92px;width:1244.5px"></div>
<div class="hs" style="left:0;top:698.94px;width:354.5px"></div>
<div class="hd" style="left:354.5px;top:698.94px;width:1244.5px"></div>
<div class="hs" style="left:0;top:726.96px;width:354.5px"></div>
<div class="hd" style="left:354.5px;top:726.96px;width:1244.5px"></div>
<div class="hs" style="left:0;top:754.98px;width:354.5px"></div>
<div class="hd" style="left:354.5px;top:754.98px;width:1244.5px"></div>
<div class="hs" style="left:0;top:783px;width:354.5px"></div>
<div class="hd" style="left:354.5px;top:783px;width:1244.5px"></div>
<div class="hs" style="left:0;top:811.02px;width:354.5px"></div>
<div class="hd" style="left:354.5px;top:811.02px;width:1244.5px"></div>
<div class="v" style="left:354px;top:83.3px;height:727.7px"></div>
<div style="left:353.8px;top:26.5px;height:56.8px;width:1.4px;background:#e6eef8"></div>
<div class="v" style="left:455.5px;top:83.3px;height:727.7px"></div>
<div style="left:455.3px;top:26.5px;height:56.8px;width:1.4px;background:#e6eef8"></div>
<div class="v" style="left:533.5px;top:83.3px;height:727.7px"></div>
<div style="left:533.3px;top:26.5px;height:56.8px;width:1.4px;background:#e6eef8"></div>
<div class="v" style="left:659.1px;top:83.3px;height:727.7px"></div>
<div style="left:658.9px;top:26.5px;height:56.8px;width:1.4px;background:#e6eef8"></div>
<div class="v" style="left:712.5px;top:83.3px;height:727.7px"></div>
<div style="left:712.3px;top:26.5px;height:56.8px;width:1.4px;background:#e6eef8"></div>
<div class="v" style="left:818.5px;top:83.3px;height:727.7px"></div>
<div style="left:818.3px;top:26.5px;height:56.8px;width:1.4px;background:#e6eef8"></div>
<div class="v" style="left:865.5px;top:83.3px;height:727.7px"></div>
<div style="left:865.3px;top:26.5px;height:56.8px;width:1.4px;background:#e6eef8"></div>
<div class="v" style="left:914px;top:83.3px;height:727.7px"></div>
<div style="left:913.8px;top:26.5px;height:56.8px;width:1.4px;background:#e6eef8"></div>
<div class="v" style="left:962px;top:83.3px;height:727.7px"></div>
<div style="left:961.8px;top:26.5px;height:56.8px;width:1.4px;background:#e6eef8"></div>
<div class="v" style="left:1019.5px;top:83.3px;height:727.7px"></div>
<div style="left:1019.3px;top:26.5px;height:56.8px;width:1.4px;background:#e6eef8"></div>
<div class="v" style="left:1080px;top:83.3px;height:727.7px"></div>
<div style="left:1079.8px;top:26.5px;height:56.8px;width:1.4px;background:#e6eef8"></div>
<div class="v" style="left:1143.25px;top:83.3px;height:727.7px"></div>
<div style="left:1143.05px;top:26.5px;height:56.8px;width:1.4px;background:#e6eef8"></div>
<div class="v" style="left:1212.5px;top:83.3px;height:727.7px"></div>
<div style="left:1212.3px;top:26.5px;height:56.8px;width:1.4px;background:#e6eef8"></div>
<div class="v" style="left:1259.5px;top:83.3px;height:727.7px"></div>
<div style="left:1259.3px;top:26.5px;height:56.8px;width:1.4px;background:#e6eef8"></div>
<div class="v" style="left:1308.25px;top:83.3px;height:727.7px"></div>
<div style="left:1308.05px;top:26.5px;height:56.8px;width:1.4px;background:#e6eef8"></div>
<div class="v" style="left:1356.25px;top:83.3px;height:727.7px"></div>
<div style="left:1356.05px;top:26.5px;height:56.8px;width:1.4px;background:#e6eef8"></div>
<div class="v" style="left:1392px;top:83.3px;height:727.7px"></div>
<div style="left:1391.8px;top:26.5px;height:56.8px;width:1.4px;background:#e6eef8"></div>
<div class="v" style="left:1431px;top:83.3px;height:727.7px"></div>
<div style="left:1430.8px;top:26.5px;height:56.8px;width:1.4px;background:#e6eef8"></div>
<div class="v" style="left:1470.5px;top:83.3px;height:727.7px"></div>
<div style="left:1470.3px;top:26.5px;height:56.8px;width:1.4px;background:#e6eef8"></div>
<div class="v" style="left:1518.5px;top:83.3px;height:727.7px"></div>
<div style="left:1518.3px;top:26.5px;height:56.8px;width:1.4px;background:#e6eef8"></div>
<div class="v" style="left:1556.5px;top:83.3px;height:727.7px"></div>
<div style="left:1556.3px;top:26.5px;height:56.8px;width:1.4px;background:#e6eef8"></div>
<div class="c n y" style="left:0;top:83.3px;width:153px">31 围谦太朗</div>
<div class="c n p" style="left:0;top:111.32px;width:153px">22高田椋汰</div>
<div class="c n p" style="left:0;top:139.34px;width:153px">25藤山智史</div>
<div class="c n p" style="left:0;top:167.36px;width:153px">4阿部海大</div>
<div class="c n p" style="left:0;top:195.38px;width:153px">5河野贵志</div>
<div class="c n p" style="left:0;top:223.4px;width:153px">40青木翔大</div>
<div class="c n y" style="left:0;top:251.42px;width:153px">33饭尾龙太郎</div>
<div class="c n p" style="left:0;top:279.44px;width:153px">6诸冈裕人</div>
<div class="c n y" style="left:0;top:307.46px;width:153px">17梶谷政仁</div>
<div class="c n y" style="left:0;top:335.48px;width:153px">7水谷拓磨</div>
<div class="c n p" style="left:0;top:363.5px;width:153px">13才藤龙治</div>
<div class="c n y" style="left:0;top:391.52px;width:153px">8 畑润基</div>
<div class="c n y" style="left:0;top:419.54px;width:153px">15丹羽诗温</div>
<div class="c n g" style="left:0;top:447.56px;width:153px">14三上阳辅</div>
<div class="c n g" style="left:0;top:475.58px;width:153px">23田中裕人</div>
<div class="c n g" style="left:0;top:503.6px;width:153px">24小暮大器</div>
<div class="c n g" style="left:0;top:531.62px;width:153px">9中村亮太</div>
<div class="c n y" style="left:0;top:559.64px;width:153px">29斋藤惠太</div>
<div class="c n g" style="left:0;top:587.66px;width:153px">3小柳达司</div>
<div class="c n y" style="left:0;top:615.68px;width:153px">18吉田伊吹</div>
<div class="c n g" style="left:0;top:643.7px;width:153px">16井上直辉</div>
<div class="c n g" style="left:0;top:671.72px;width:153px">10冲野将基</div>
<div class="c n" style="left:0;top:699.74px;width:153px">27藤田雄士</div>
<div class="c n" style="left:0;top:727.76px;width:153px">50加贺健一</div>
<div class="c n" style="left:0;top:755.78px;width:153px">21小泽明仁</div>
<div class="c n" style="left:0;top:783.8px;width:153px">1山田元气</div>
<div style="left:611px;top:0;width:2px;height:811px;background:#8e8e8e"></div>
<div style="left:770px;top:0;width:2px;height:811px;background:#8e8e8e"></div>
<div style="left:0;top:24.5px;width:1599px;height:2px;background:#687a8e"></div>
<div style="left:0;top:82.1px;width:1599px;height:2px;background:#75879a"></div>
<div style="left:152.6px;top:25.5px;width:1.2px;height:85.82px;background:#000"></div>
<div style="left:152.6px;top:419.54px;width:1.2px;height:391.46px;background:#000"></div>
<div style="left:0;top:25.5px;width:1.2px;height:785.5px;background:#000"></div>

</div></body></html>
